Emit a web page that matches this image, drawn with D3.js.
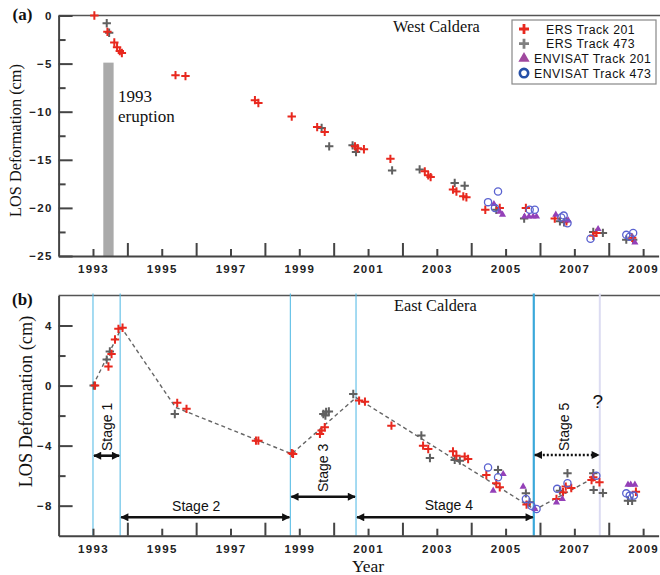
<!DOCTYPE html>
<html>
<head>
<meta charset="utf-8">
<script src="https://cdn.jsdelivr.net/npm/d3@7"></script>
<style>
  body { margin: 0; background: #fff; }
  .tick text { font-family: "Liberation Sans", Arial, sans-serif; font-weight: bold; font-size: 11.5px; letter-spacing: 1.3px; fill: #222; }
  .axis .domain, .axis .tick line { stroke: #444; stroke-width: 2; }
  .serif { font-family: "Liberation Serif", "Times New Roman", serif; fill: #111; }
  .sans { font-family: "Liberation Sans", Arial, sans-serif; fill: #111; }
</style>
</head>
<body>
<svg id="chart" width="660" height="575"></svg>
<script>
// ---- data ----
const xTickYears = [1993, 1995, 1997, 1999, 2001, 2003, 2005, 2007, 2009];
const xLongTicks = [1994, 1996, 1998, 2000, 2002, 2004, 2006, 2008];
const westTicks = [0, -5, -10, -15, -20, -25];
const westMinor = [-2.5, -7.5, -12.5, -17.5, -22.5];
const eastTicks = [4, 0, -4, -8];
const eastMinor = [2, -2, -6];

const legendLabels = ["ERS Track 201", "ERS Track 473", "ENVISAT Track 201", "ENVISAT Track 473"];

// (a) West Caldera
const westErs201 = [[1993.04, 0], [1993.42, -1.7], [1993.62, -2.8], [1993.70, -3.3], [1993.78, -3.7], [1993.84, -3.9],
  [1995.40, -6.2], [1995.69, -6.3], [1997.71, -8.8], [1997.81, -9.1], [1998.78, -10.5],
  [1999.52, -11.6], [1999.74, -12.1], [2000.62, -13.6], [2000.70, -13.8], [2000.88, -13.9],
  [2001.65, -14.9], [2002.65, -16.2], [2002.75, -16.6], [2002.82, -16.8],
  [2003.47, -18.1], [2003.57, -18.3], [2003.77, -18.8], [2003.86, -18.9],
  [2004.41, -20.2], [2004.83, -20.0], [2005.59, -20.0], [2006.43, -21.1], [2006.77, -21.4],
  [2007.55, -22.9], [2007.64, -22.6], [2008.68, -23.1]];
const westErs473 = [[1993.40, -0.8], [1993.47, -1.8], [1999.65, -11.7], [1999.87, -13.6],
  [2000.55, -13.5], [2000.65, -14.2], [2001.70, -16.1], [2002.50, -16.0],
  [2003.52, -17.4], [2003.81, -17.7], [2004.73, -20.2], [2005.54, -21.1],
  [2006.58, -21.4], [2006.70, -21.5], [2007.55, -22.5], [2007.83, -22.6],
  [2008.51, -23.3], [2008.71, -23.3]];
const westEnv201 = [[2004.66, -19.6], [2004.83, -20.4], [2004.91, -20.7],
  [2005.55, -20.9], [2005.68, -20.9], [2005.80, -20.9], [2005.90, -20.9],
  [2006.46, -20.7], [2006.82, -21.3], [2007.69, -22.2], [2008.76, -23.6]];
const westEnv473 = [[2004.49, -19.4], [2004.69, -20.0], [2004.78, -18.3],
  [2005.70, -20.2], [2005.85, -20.2], [2006.62, -21.0], [2006.69, -20.8], [2006.80, -21.6],
  [2007.47, -23.2], [2008.51, -22.8], [2008.61, -23.0], [2008.71, -22.6]];
const eruption = { start: 1993.3, end: 1993.6, top: -4.9 };

// (b) East Caldera
const eastErs201 = [[1993.06, 0.0], [1993.45, 1.27], [1993.54, 2.1], [1993.64, 3.07], [1993.74, 3.78], [1993.86, 3.85],
  [1995.45, -1.15], [1995.72, -1.55], [1997.74, -3.67], [1997.81, -3.67],
  [1998.78, -4.5], [1998.82, -4.55], [1999.60, -3.22], [1999.65, -3.0], [1999.74, -2.78],
  [2000.74, -1.0], [2000.91, -1.07], [2001.68, -2.67], [2002.60, -4.0], [2002.75, -4.22],
  [2003.47, -4.38], [2003.57, -4.67], [2003.81, -4.73], [2003.91, -4.89],
  [2004.44, -5.96], [2004.73, -6.51], [2004.83, -6.78], [2005.61, -7.93],
  [2006.48, -7.55], [2006.67, -7.11], [2006.75, -6.73], [2006.91, -6.82],
  [2007.50, -6.29], [2007.55, -6.11], [2007.73, -6.44], [2008.79, -7.07]];
const eastErs473 = [[1993.02, 0.0], [1993.40, 1.73], [1993.49, 2.27], [1995.38, -1.89],
  [1999.70, -1.89], [1999.78, -1.75], [1999.86, -1.73], [1999.76, -2.0], [2000.57, -0.56],
  [2002.55, -3.33], [2002.80, -4.82], [2003.52, -4.95], [2003.67, -5.0], [2004.78, -5.62],
  [2005.59, -7.18], [2005.70, -7.78], [2006.58, -7.0], [2006.80, -5.84],
  [2007.55, -5.84], [2007.56, -6.95], [2007.83, -7.16], [2008.56, -7.67], [2008.68, -7.67]];
const eastEnv201 = [[2004.93, -5.89], [2004.64, -7.0], [2005.51, -6.73], [2005.85, -8.22],
  [2006.48, -7.78], [2006.65, -7.55], [2008.56, -6.6], [2008.64, -6.6], [2008.76, -6.6]];
const eastEnv473 = [[2004.49, -5.45], [2004.78, -6.11], [2005.59, -7.55], [2005.75, -8.0], [2005.90, -8.22],
  [2006.50, -6.88], [2006.80, -6.51], [2007.64, -6.0],
  [2008.51, -7.18], [2008.61, -7.33], [2008.73, -7.33]];
const eastTrend = [[1993.0, 0], [1993.83, 3.85], [1995.4, -1.45], [1998.78, -4.55],
  [2000.65, -0.8], [2005.85, -8.27], [2007.6, -6.1]];

const stageNames = ["Stage 1", "Stage 2", "Stage 3", "Stage 4", "Stage 5"];
const stageStart = [1993.0, 1993.79, 1998.74, 2000.65, 2005.82];
const stageEnd = [1993.79, 1998.74, 2000.65, 2005.82, 2007.74];
const unknownEnd = 2007.74;

// ---- colours ----
const RED = "#e8281e", GRAY = "#606060", PURPLE = "#9440b8", BLUE = "#5a62d0";

const svg = d3.select("#chart");

const x = d3.scaleLinear().domain([1992, 2009.45]).range([58.6, 658.6]);
const yA = d3.scaleLinear().domain([-25, 0]).range([256, 15.5]);
const yB = d3.scaleLinear().domain([-10, 6]).range([535.7, 295.5]);

// arrow markers
const defs = svg.append("defs");
defs.append("marker")
  .attr("id", "head")
  .attr("viewBox", "0 0 10 10")
  .attr("refX", 9).attr("refY", 5)
  .attr("markerUnits", "userSpaceOnUse")
  .attr("markerWidth", 9).attr("markerHeight", 8)
  .attr("orient", "auto-start-reverse")
  .append("path").attr("d", "M0,0L10,5L0,10z").attr("fill", "#111");

function drawXAxis(y0) {
  svg.append("g").attr("class", "axis")
    .attr("transform", `translate(0,${y0})`)
    .call(d3.axisBottom(x).tickValues(xTickYears).tickSize(-7).tickSizeOuter(0).tickPadding(9).tickFormat(d3.format("d")));
  svg.append("g").attr("class", "axis")
    .attr("transform", `translate(0,${y0})`)
    .call(d3.axisBottom(x).tickValues(xLongTicks).tickSize(-13).tickSizeOuter(0).tickFormat(""))
    .select(".domain").remove();
}

function drawYAxis(y, major, minor) {
  svg.append("g").attr("class", "axis")
    .attr("transform", `translate(${x.range()[0]},0)`)
    .call(d3.axisLeft(y).tickValues(major).tickSize(-14).tickSizeOuter(0).tickPadding(6).tickFormat(d3.format("d")));
  svg.append("g").attr("class", "axis")
    .attr("transform", `translate(${x.range()[0]},0)`)
    .call(d3.axisLeft(y).tickValues(minor).tickSize(-7).tickSizeOuter(0).tickFormat(""))
    .select(".domain").remove();
}

function topLine(yy) {
  svg.append("line")
    .attr("x1", x.range()[0]).attr("x2", 660)
    .attr("y1", yy).attr("y2", yy)
    .attr("stroke", "#555").attr("stroke-width", 1.6);
}

const plusPath = (s) => `M${-s},0H${s}M0,${-s}V${s}`;

function drawSeries(g, data, y, kind, color) {
  const sel = g.append("g").selectAll("path").data(data).enter();
  if (kind === "plus") {
    sel.append("path")
      .attr("d", plusPath(4.2))
      .attr("transform", (d) => `translate(${x(d[0])},${y(d[1])})`)
      .attr("stroke", color).attr("stroke-width", 2).attr("fill", "none");
  } else if (kind === "tri") {
    sel.append("path")
      .attr("d", d3.symbol(d3.symbolTriangle, 22)())
      .attr("transform", (d) => `translate(${x(d[0])},${y(d[1])})`)
      .attr("fill", color);
  } else {
    sel.append("circle")
      .attr("cx", (d) => x(d[0])).attr("cy", (d) => y(d[1]))
      .attr("r", 3.6)
      .attr("fill", "none").attr("stroke", color).attr("stroke-width", 1.3);
  }
}

// ================= panel (a) =================
topLine(yA(0));

// eruption bar
svg.append("rect")
  .attr("x", x(eruption.start)).attr("width", x(eruption.end) - x(eruption.start))
  .attr("y", yA(eruption.top)).attr("height", yA(-25) - yA(eruption.top))
  .attr("fill", "#aaa");

drawXAxis(yA(-25));
drawYAxis(yA, westTicks, westMinor);

const gA = svg.append("g");
drawSeries(gA, westErs473, yA, "plus", GRAY);
drawSeries(gA, westErs201, yA, "plus", RED);
drawSeries(gA, westEnv201, yA, "tri", PURPLE);
drawSeries(gA, westEnv473, yA, "circle", BLUE);

svg.append("text").attr("class", "serif").attr("x", 118).attr("y", 101.5)
  .attr("font-size", 17).text("1993");
svg.append("text").attr("class", "serif").attr("x", 118).attr("y", 121.5)
  .attr("font-size", 17).text("eruption");

svg.append("text").attr("class", "serif").attr("x", 393).attr("y", 31.5)
  .attr("font-size", 16.3).text("West Caldera");

svg.append("text").attr("class", "serif").attr("x", 12.5).attr("y", 19.5)
  .attr("font-size", 17).attr("font-weight", "bold").text("(a)");

svg.append("text").attr("class", "serif")
  .attr("transform", "translate(20.5,140.5) rotate(-90)")
  .attr("text-anchor", "middle").attr("font-size", 16.3)
  .text("LOS Deformation (cm)");

// legend
const legend = svg.append("g").attr("transform", "translate(512,20)");
legend.append("rect").attr("width", 144).attr("height", 64)
  .attr("fill", "#fff").attr("stroke", "#888").attr("stroke-width", 1.2);
const legendRows = legend.selectAll("g").data(legendLabels).enter().append("g")
  .attr("transform", (d, i) => `translate(12,${9 + i * 14.7})`);
legendRows.each(function (d, i) {
  const row = d3.select(this);
  if (i < 2) {
    row.append("path").attr("d", plusPath(5)).attr("stroke", i === 0 ? RED : "#808080")
      .attr("stroke-width", 2.8).attr("fill", "none");
  } else if (i === 2) {
    row.append("path").attr("d", d3.symbol(d3.symbolTriangle, 55)()).attr("fill", "#a0489e");
  } else {
    row.append("circle").attr("r", 4.2).attr("fill", "none").attr("stroke", "#2650a8").attr("stroke-width", 2.6);
  }
  row.append("text").attr("class", "sans")
    .attr("x", i < 2 ? 22 : 10).attr("y", 4.5)
    .attr("font-size", 12.3).attr("letter-spacing", 0.5)
    .text(d);
});

// ================= panel (b) =================
topLine(yB(6));

// stage boundary lines
svg.append("g").selectAll("line").data(stageStart).enter().append("line")
  .attr("x1", (d) => x(d)).attr("x2", (d) => x(d))
  .attr("y1", yB(6) - 2).attr("y2", yB(-10))
  .attr("stroke", (d, i) => (i === 4 ? "#3aa8da" : "#5bbde6"))
  .attr("stroke-width", (d, i) => (i === 4 ? 2.2 : 1.1));
svg.append("line")
  .attr("x1", x(unknownEnd)).attr("x2", x(unknownEnd))
  .attr("y1", yB(6) - 2).attr("y2", yB(-10))
  .attr("stroke", "#dcdcf2").attr("stroke-width", 2);

drawXAxis(yB(-10));
drawYAxis(yB, eastTicks, eastMinor);

// dashed trend
svg.append("path")
  .datum(eastTrend)
  .attr("d", d3.line().x((d) => x(d[0])).y((d) => yB(d[1])))
  .attr("fill", "none").attr("stroke", "#666").attr("stroke-width", 1.4)
  .attr("stroke-dasharray", "4,3");

const gB = svg.append("g");
drawSeries(gB, eastErs473, yB, "plus", GRAY);
drawSeries(gB, eastErs201, yB, "plus", RED);
drawSeries(gB, eastEnv201, yB, "tri", PURPLE);
drawSeries(gB, eastEnv473, yB, "circle", BLUE);

// stage arrows + labels
const stageLayout = [
  { ay: 455.7, rot: true, ly: 451, dx: 0 },
  { ay: 517.3, rot: false, ly: 511, dx: -9 },
  { ay: 496.7, rot: true, ly: 492, dx: 0 },
  { ay: 517.3, rot: false, ly: 510, dx: 4 },
  { ay: 455, rot: true, ly: 451, dx: -3, dotted: true }
];
stageNames.forEach((name, i) => {
  const L = stageLayout[i];
  const x0 = x(stageStart[i]), x1 = x(stageEnd[i]);
  svg.append("line")
    .attr("x1", x0 + 1).attr("x2", x1 - 1)
    .attr("y1", L.ay).attr("y2", L.ay)
    .attr("stroke", "#111").attr("stroke-width", 2.6)
    .attr("stroke-dasharray", L.dotted ? "2,2" : null)
    .attr("marker-start", "url(#head)").attr("marker-end", "url(#head)");
  const cx = (x0 + x1) / 2 + L.dx;
  if (L.rot) {
    svg.append("text").attr("class", "sans")
      .attr("transform", `translate(${cx + 5},${L.ly}) rotate(-90)`)
      .attr("font-size", 14).text(name);
  } else {
    svg.append("text").attr("class", "sans")
      .attr("x", cx).attr("y", L.ly).attr("text-anchor", "middle")
      .attr("font-size", 14).text(name);
  }
});

svg.append("text").attr("class", "sans").attr("x", x(unknownEnd) - 2).attr("y", 408)
  .attr("text-anchor", "middle").attr("font-size", 19).text("?");

svg.append("text").attr("class", "serif").attr("x", 394).attr("y", 310.5)
  .attr("font-size", 16.3).text("East Caldera");

svg.append("text").attr("class", "serif").attr("x", 12).attr("y", 305)
  .attr("font-size", 17).attr("font-weight", "bold").text("(b)");

svg.append("text").attr("class", "serif")
  .attr("transform", "translate(31.5,401.5) rotate(-90)")
  .attr("text-anchor", "middle").attr("font-size", 18.3)
  .text("LOS Deformation (cm)");

svg.append("text").attr("class", "serif").attr("x", 368).attr("y", 572)
  .attr("text-anchor", "middle").attr("font-size", 17.5).text("Year");
</script>
</body>
</html>
